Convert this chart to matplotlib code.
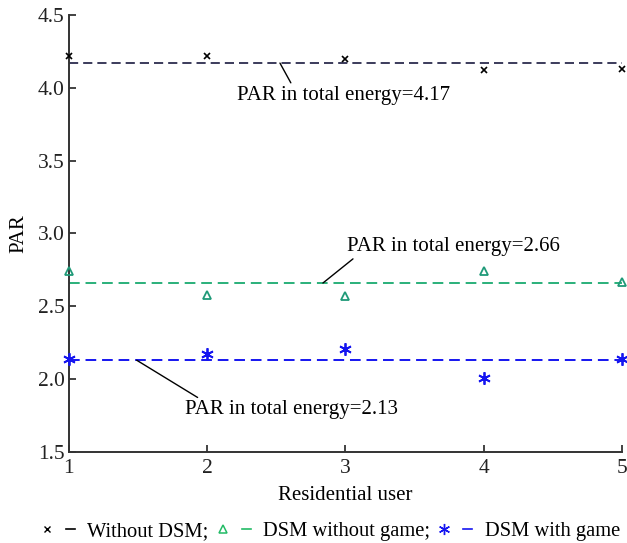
import matplotlib
matplotlib.use("Agg")
import matplotlib.pyplot as plt
import numpy as np
from matplotlib.lines import Line2D
from matplotlib.legend_handler import HandlerTuple

plt.rcParams['font.family'] = ['Liberation Serif', 'DejaVu Serif']

users = [1, 2, 3, 4, 5]
par_no_dsm = [4.22, 4.22, 4.20, 4.12, 4.13]
par_dsm_no_game = [2.74, 2.58, 2.57, 2.74, 2.67]
par_dsm_game = [2.14, 2.17, 2.21, 2.01, 2.14]
par_total = [4.17, 2.66, 2.13]
labels = ["Without DSM;", "DSM without game;", "DSM with game"]

c_black = "black"
c_black_line = "#1a1a40"
c_green_m = "#1f9a78"
c_green_l = "#2ab07a"
c_green_leg = "#22bb66"
c_blue = "#1515f0"
ast = (6, 2, 0)

fig = plt.figure(figsize=(6.27, 5.43), dpi=100)
ax = fig.add_axes([0.110, 0.1676, 0.882, 0.8048])

ax.plot(users, par_no_dsm, ls="none", marker="x", ms=5, mew=1.2, color=c_black, clip_on=False, zorder=3)
ax.plot(users, par_dsm_no_game, ls="none", marker="^", ms=6, mew=1.3, mfc="none", mec=c_green_m, clip_on=False, zorder=3)
ax.plot(users, par_dsm_game, ls="none", marker=ast, ms=9, mew=1.3, color=c_blue, clip_on=False, zorder=3)

ax.axhline(par_total[0], color=c_black_line, ls=(0, (5.5, 3)), lw=1.2)
ax.axhline(par_total[1], color=c_green_l, ls=(0, (5.5, 3)), lw=1.4)
ax.axhline(par_total[2], color=c_blue, ls=(0, (5.5, 3)), lw=1.4)

fs = 15
arrow = dict(arrowstyle="-", color="black", lw=1.0, shrinkA=0, shrinkB=0)
ax.annotate("PAR in total energy=%.2f" % par_total[0], xy=(2.526, par_total[0]),
            xytext=(2.215, 3.95), ha="left", va="center", fontsize=fs,
            arrowprops=dict(arrow, relpos=(0.26, 1.0)))
ax.annotate("PAR in total energy=%.2f" % par_total[1], xy=(2.837, par_total[1]),
            xytext=(3.01, 2.91), ha="left", va="center", fontsize=fs,
            arrowprops=dict(arrow, relpos=(0.045, 0.0)))
ax.annotate("PAR in total energy=%.2f" % par_total[2], xy=(1.49, par_total[2]),
            xytext=(1.84, 1.79), ha="left", va="center", fontsize=fs,
            arrowprops=dict(arrow, relpos=(0.08, 1.0)))

ax.set_xlim(1, 5)
ax.set_ylim(1.5, 4.5)
ax.set_xticks(users)
ax.set_yticks(np.arange(1.5, 4.51, 0.5))
ax.set_yticklabels(["%.1f" % v for v in np.arange(1.5, 4.51, 0.5)])
ax.tick_params(direction="in", length=5, width=1.2, labelsize=15.5, colors="#222222", pad=3)
ax.tick_params(axis="x", pad=5)
for s in ["top", "right"]:
    ax.spines[s].set_visible(False)
for s in ["left", "bottom"]:
    ax.spines[s].set_linewidth(1.4)
    ax.spines[s].set_color("#333333")

ax.set_xlabel("Residential user", fontsize=fs, labelpad=6)
ax.set_ylabel("PAR", fontsize=fs, labelpad=7)

h1 = (Line2D([], [], ls="none", marker="x", ms=5, mew=1.0, color=c_black),
      Line2D([], [], color=c_black, lw=1.2))
h2 = (Line2D([], [], ls="none", marker="^", ms=6, mew=1.1, mfc="none", mec=c_green_leg),
      Line2D([], [], color=c_green_leg, lw=1.2))
h3 = (Line2D([], [], ls="none", marker=ast, ms=8, mew=1.0, color=c_blue),
      Line2D([], [], color=c_blue, lw=1.2))
fig.legend([h1, h2, h3], labels, loc="center", bbox_to_anchor=(0.528, 0.021), ncol=3,
           frameon=False, fontsize=14.8, handlelength=1.6, handletextpad=0.6,
           columnspacing=0.45, handler_map={tuple: HandlerTuple(ndivide=None, pad=0.7)})

fig.savefig("out.png", dpi=100)
